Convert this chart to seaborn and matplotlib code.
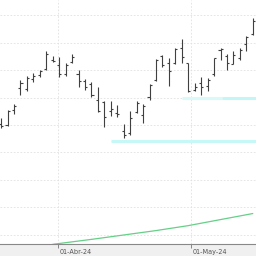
import matplotlib
matplotlib.use("Agg")
import matplotlib.pyplot as plt
import matplotlib.transforms as mtrans
import seaborn as sns
import numpy as np
import pandas as pd

# OHLC values, one bar per trading day
highs = [22.13, 22.27, 22.38, 22.82, 22.89, 22.95, 23.00, 23.35, 23.25, 23.24,
         23.13, 23.29, 23.00, 22.84, 22.78, 22.69, 22.44, 22.44, 22.36, 22.02,
         22.25, 22.44, 22.38, 22.75, 23.20, 23.27, 23.22, 23.40, 23.56, 23.13,
         22.76, 22.87, 22.85, 23.22, 23.40, 23.29, 23.35, 23.40, 23.62, 23.95]
lows = [21.95, 21.98, 22.20, 22.55, 22.62, 22.78, 22.87, 23.00, 23.15, 22.87,
        22.89, 23.13, 22.69, 22.64, 22.51, 22.24, 21.96, 22.16, 22.15, 21.76,
        21.82, 22.22, 22.04, 22.45, 22.80, 23.05, 22.71, 23.11, 23.13, 22.60,
        22.62, 22.55, 22.62, 22.89, 23.18, 23.00, 23.11, 23.18, 23.35, 23.64]
opens = [22.02, 22.00, 22.27, 22.67, 22.65, 22.84, 22.91, 23.02, 23.18, 23.09,
         22.93, 23.15, 22.93, 22.80, 22.75, 22.45, 22.42, 22.25, 22.22, 21.89,
         21.85, 22.24, 22.18, 22.51, 22.82, 23.25, 23.13, 23.13, 23.40, 23.13,
         22.64, 22.76, 22.71, 22.93, 23.36, 23.25, 23.11, 23.22, 23.47, 23.65]
closes = [21.98, 22.25, 22.35, 22.76, 22.85, 22.89, 22.98, 23.29, 23.16, 22.93,
          23.09, 23.24, 22.80, 22.69, 22.55, 22.25, 22.15, 22.29, 22.20, 21.82,
          22.13, 22.40, 22.35, 22.73, 23.18, 23.09, 22.98, 23.38, 23.24, 22.62,
          22.69, 22.69, 22.82, 23.22, 23.38, 23.13, 23.27, 23.36, 23.60, 23.89]

# indicator line (green), sparse readings at bar indices
ind_idx = [8, 14, 19, 24, 29, 34, 39]
ind_val = [19.83, 19.92, 20.00, 20.08, 20.17, 20.28, 20.39]

# horizontal levels (cyan)
level_vals = [22.50, 21.71]
level_start = [28.0, 17.0]

date_tick_pos = [8.86, 29.47]
date_tick_labels = ["01-Abr-24", "01-May-24"]

sns.set_theme(style="white")
plt.rcParams['font.family'] = ['DejaVu Sans']

fig = plt.figure(figsize=(2.56, 2.56), dpi=100)
fig.patch.set_facecolor("#f0f0f0")
ax = fig.add_axes([0, 12 / 256, 1, 244 / 256])
ax.set_facecolor("white")

xmin, xmax = -0.17, 39.5
ymin, ymax = 19.836, 24.273

# grid
for g in np.arange(20.0, 24.01, 0.5):
    ax.axhline(g, color="#e0e0e0", lw=0.6, ls=(0, (2, 2)), zorder=0)
for t in date_tick_pos:
    ax.axvline(t, color="#e0e0e0", lw=0.6, ls=(0, (2, 2)), zorder=0)

# cyan levels
ax.hlines(level_vals[0], level_start[0], 34.2, color="#dafafa", lw=2.2, zorder=1)
ax.hlines(level_vals[0], 34.2, xmax, color="#c4f6f6", lw=2.2, zorder=1)
ax.hlines(level_vals[1], level_start[1], xmax, color="#c8f7f7", lw=2.2, zorder=1)

df = pd.DataFrame({"idx": np.arange(len(highs)), "high": highs, "low": lows,
                   "open": opens, "close": closes})
ax.vlines(df["idx"], df["low"], df["high"], color="#404040", lw=0.8, zorder=3)
ax.hlines(df["open"], df["idx"] - 0.32, df["idx"], color="#404040", lw=0.8, zorder=3)
ax.hlines(df["close"], df["idx"], df["idx"] + 0.32, color="#404040", lw=0.8, zorder=3)

ind = pd.DataFrame({"idx": ind_idx, "val": ind_val})
sns.lineplot(data=ind, x="idx", y="val", ax=ax, color="#66cf88", lw=0.9, zorder=2)

ax.set_xlim(xmin, xmax)
ax.set_ylim(ymin, ymax)
ax.set_xlabel("")
ax.set_ylabel("")
ax.set_yticks([])
ax.set_xticks(date_tick_pos)
ax.set_xticklabels(date_tick_labels, fontsize=4.7, color="#555555", ha="left")
ax.tick_params(axis="x", direction="out", length=3, width=0.6, color="#777777", pad=0.5,
               bottom=True)
offset = mtrans.ScaledTranslation(1 / 100, 0, fig.dpi_scale_trans)
for lab in ax.get_xticklabels():
    lab.set_transform(lab.get_transform() + offset)

for s in ["top", "left", "right"]:
    ax.spines[s].set_visible(False)
ax.spines["bottom"].set_color("#888888")
ax.spines["bottom"].set_linewidth(0.8)

fig.savefig("out.png", dpi=100, facecolor=fig.get_facecolor())
